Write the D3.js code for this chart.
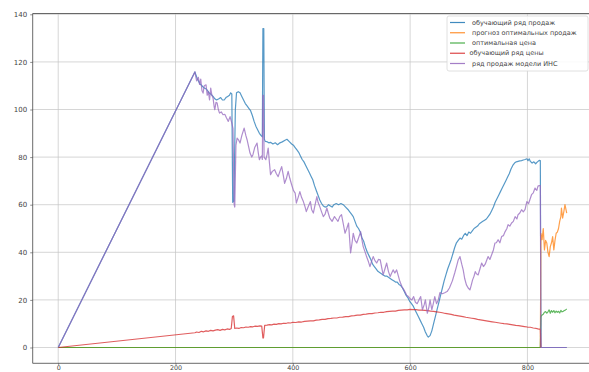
<!DOCTYPE html>
<html>
<head>
<meta charset="utf-8">
<script src="https://cdn.jsdelivr.net/npm/d3@7"></script>
<style>
  html, body { margin: 0; padding: 0; background: #fff; }
  svg { display: block; font-family: "DejaVu Sans", sans-serif; }
</style>
</head>
<body>
<svg id="chart" width="589" height="372"></svg>
<script>
// Training sales series [index, value]
const trainSales = [[0,0],[233,115.8],[237,113],[241,111],[245,110],[249,109],[253,108.5],[257,107],[260,106.5],[264,105.5],[267,104.5],[270,104],[274,104.5],[277,105],[280,104],[283,104],[286,105],[289,105.5],[292,106],[294,107],[296,106.5],[297.5,61],[299.5,61.5],[302,100],[304,107],[307,107.5],[310,107],[313,105.5],[316,104],[319,102.5],[322,101.5],[325,100.5],[328,99.5],[331,97.5],[334,95],[337,93],[340,91.5],[343,90],[346,89],[348,88.5],[349,134],[350.5,134],[351.5,87.5],[353,86.6],[356,86.5],[359,86],[362,86.2],[366,85.5],[370,86],[374,85.2],[378,86],[382,86.4],[386,87],[390,87.5],[394,86.5],[398,85.5],[401,85],[404,84],[407,83],[410,82],[413,80.5],[416,79],[419,78],[422,76.5],[425,75],[428,73.5],[431,72],[434,70.5],[437,68],[440,66],[443,64],[446,62],[449,60.5],[452,59.5],[455,59],[458,59.2],[461,60],[464,59.5],[467,59],[470,60],[474,60.5],[478,60],[482,60.5],[486,60],[490,59],[494,58],[497,57],[500,56],[503,55],[506,53],[509,51],[512,50],[515,48.5],[518,46],[521,44.5],[524,42],[527,40],[530,38.5],[533,37],[536,35],[539,34],[542,33],[545,32],[548,31.5],[551,31],[554,30.5],[557,30],[560,30],[563,29.5],[566,29],[569,28.5],[572,28],[575,27.5],[578,27.5],[581,26.5],[584,26],[587,25],[590,23.5],[593,22],[596,21],[599,19.5],[602,18.5],[605,17.5],[608,16],[611,14.5],[614,13],[617,11.5],[620,10],[623,8.5],[626,6.5],[629,5],[631,4.4],[634,5],[637,7],[640,10],[643,13],[646,16],[649,19],[652,22],[655,25],[658,28],[661,30.5],[664,33],[667,35],[670,37],[673,39.5],[676,42],[679,44],[682,45],[685,46],[688,45.5],[691,47],[694,48],[697,47],[700,48.5],[703,48],[706,49],[709,50],[712,50.5],[715,51],[718,52],[721,52.5],[724,53],[727,53.5],[730,54],[733,55],[736,56],[739,57.5],[742,59],[745,61],[748,62.5],[751,64],[754,65.5],[757,67],[760,68.5],[763,70],[766,71.5],[769,73],[772,75],[775,76.5],[778,77.5],[781,78],[784,78.2],[787,78.4],[790,78.5],[793,78.8],[796,79],[799,79.3],[801,78.5],[803,79.3],[805,78.2],[808,77.5],[811,78],[814,77.2],[817,78],[820,78.6],[822,78.5],[823,0],[867,0]];

// Forecast of optimal sales
const forecastSales = [[0,0],[822,0],[823,48],[825,45.3],[827,50],[829,41],[831,45],[833,43.9],[835,40],[837,38.2],[839,42.4],[841,44],[843,46.6],[845,41],[847,45],[849,48],[851,48.5],[853,50],[855,53],[857,55],[858,58.6],[860,54.4],[862,57],[864,60],[867,56.5]];

// Optimal price
const optimalPrice = [[0,0],[822,0],[823,13],[825,13.7],[827,14],[829,14.8],[831,15.1],[833,14.4],[835,15],[837,15.8],[839,14.4],[841,15.5],[843,14.8],[845,15.5],[847,14.6],[849,15.3],[851,14.8],[853,15.2],[855,14.5],[857,15.6],[859,15],[861,15.2],[863,15.5],[865,15.8],[867,16.2]];

// Training price series
const trainPrice = [[0,0],[233,6.2],[236,6.5],[240,6.3],[244,6.8],[248,6.6],[252,7],[256,6.8],[260,7.2],[264,7],[268,7.3],[272,7.5],[276,7.2],[280,7.6],[284,7.4],[288,7.8],[292,7.6],[295,8],[297,13],[299,13.3],[301,8],[304,8.2],[308,8],[312,8.4],[316,8.3],[320,8.6],[324,8.5],[328,8.8],[332,8.7],[336,9],[340,8.9],[344,9.1],[347,9],[349,4],[350,4],[352,9.3],[356,9.4],[360,9.6],[364,9.5],[368,9.8],[372,9.7],[376,10],[380,9.9],[384,10.2],[388,10.1],[392,10.4],[396,10.3],[400,10.6],[405,10.5],[410,10.8],[415,10.7],[420,11],[425,11.1],[430,11.2],[435,11.2],[440,11.5],[445,11.6],[450,11.8],[455,11.8],[460,12.1],[465,12.2],[470,12.4],[475,12.4],[480,12.7],[485,12.8],[490,13],[495,13],[500,13.3],[505,13.4],[510,13.6],[515,13.6],[520,13.9],[525,14],[530,14.2],[535,14.2],[540,14.5],[545,14.6],[550,14.8],[555,14.8],[560,15.1],[565,15.2],[570,15.3],[575,15.3],[580,15.6],[585,15.7],[590,15.8],[595,15.8],[600,16],[605,15.9],[610,15.9],[615,15.7],[620,15.7],[625,15.6],[630,15.5],[635,15.3],[640,15.2],[645,15],[650,14.8],[655,14.6],[660,14.3],[665,14.1],[670,13.9],[675,13.6],[680,13.4],[685,13.2],[690,13],[695,12.7],[700,12.5],[705,12.3],[710,12.1],[715,11.8],[720,11.6],[725,11.4],[730,11.2],[735,11],[740,10.8],[745,10.6],[750,10.4],[755,10.2],[760,10],[765,9.9],[770,9.7],[775,9.5],[780,9.3],[785,9.2],[790,9],[795,8.8],[800,8.6],[805,8.5],[810,8.2],[815,8],[818,7.8],[822,7.6],[823,0]];

// Sales series from the neural network model
const modelSales = [[0,0],[233,115.8],[236,112],[239,113.5],[241,110.5],[243,112.8],[245,108],[247,106.9],[249,110],[252,110.4],[254,106],[256,107.6],[258,104],[260,109],[262,106],[264,104.8],[266,101],[267,99.9],[269,103],[271,102.7],[273,100],[275,98.5],[278,99],[281,97.8],[284,98],[287,96.4],[290,95],[293,97],[296,94.3],[298,92],[300,60],[301,59],[303,85],[305,88],[308,87],[310,85.9],[313,89],[317,92.2],[320,89],[322,87.3],[325,84],[327,81.7],[330,80],[332,81],[335,84],[339,85.9],[341,82],[343,78.9],[345,80],[347,80.5],[348,79],[349,106],[350,106],[351,80],[354,78.9],[356,81],[358,83.8],[360,78],[362,72.6],[365,74],[369,74.7],[372,73],[375,71.8],[378,74],[381,76],[384,72],[386,69],[389,71],[392,74],[395,71],[398,68.4],[401,66],[404,64.9],[406,60.7],[409,63],[412,65.5],[415,63],[418,61.3],[421,59],[423,57.1],[426,59],[430,61.3],[432,58],[435,56.5],[438,60],[441,63.4],[443,61],[446,59.2],[449,57],[452,55],[455,56],[458,58.6],[461,56],[463,54.4],[467,53],[471,55],[474,54],[477,53],[480,55],[483,55.8],[486,52],[489,48],[492,50],[495,52.3],[497,45],[498.5,39.7],[501,44],[503,48],[506,45],[509,43.9],[512,46],[515.6,48.7],[518,45],[520,42.4],[523,40.3],[526,38],[529,36],[531.5,34],[534,36],[537,38.2],[540,36.5],[543,35.5],[546,37],[549,36.8],[552,33],[554,30.5],[557,33],[560,35.5],[563,32],[566,29.8],[568,31],[571,32.6],[574,31.3],[577,32.6],[580,30],[582.6,27.7],[586,25.6],[590,24],[594,22],[597,21.4],[600,20.5],[603,20],[606,21.4],[609,19],[612,18.4],[615,20],[618,21.4],[621,15.8],[624,18],[626,20],[629.3,14.4],[632,17],[634,20],[637,15.8],[640,19],[642,21.4],[645,18.4],[648,20],[650.8,23.1],[655,22.6],[659,23],[663,23.5],[667,25],[672,28],[676,31.3],[679,34],[682,36.8],[685,38.2],[688,35],[690.5,32.6],[693,29],[696,26.3],[699,25],[702,24.2],[704,26],[706.5,28.4],[709,30],[711,31.9],[713,31],[716,30.5],[719,33],[722,35.5],[725,34],[728,35],[731,37],[733,38.2],[736,37],[739,39],[742,41],[744.6,43.9],[747,44],[750,45.3],[753,44],[756,46.6],[759,47],[762,48.7],[765,50],[767,51.6],[770,51],[773,52.3],[776,53],[779,55],[782,54],[784,55.8],[787,56.5],[790,57.9],[793,57],[796,58],[799,61.3],[802,60.5],[804,62],[807,64.2],[810,65],[813,67],[816,66],[818,67.8],[820,68],[822,68],[823,0],[867,0]];

const xTicks = [0, 200, 400, 600, 800];
const yTicks = [0, 20, 40, 60, 80, 100, 120, 140];

const seriesNames = [
  "обучающий ряд продаж",
  "прогноз оптимальных продаж",
  "оптимальная цена",
  "обучающий ряд цены",
  "ряд продаж модели ИНС"
];
const seriesColors = ["#1f77b4", "#ff7f0e", "#2ca02c", "#d62728", "#9467bd"];
const seriesData = [trainSales, forecastSales, optimalPrice, trainPrice, modelSales];

const svg = d3.select("#chart");
const plot = { left: 32.7, right: 594, top: 13.5, bottom: 363.3 };

const x = d3.scaleLinear().domain([-43.5, 913.5]).range([plot.left, plot.right]);
const y = d3.scaleLinear().domain([-6.64, 140.34]).range([plot.bottom, plot.top]);

svg.append("defs").append("clipPath").attr("id", "plotClip")
  .append("rect")
  .attr("x", plot.left).attr("y", plot.top)
  .attr("width", plot.right - plot.left).attr("height", plot.bottom - plot.top);

// grid
const grid = svg.append("g").attr("stroke", "#c4c4c4").attr("stroke-width", 0.7);
grid.selectAll("line.gx").data(xTicks).join("line")
  .attr("x1", d => x(d)).attr("x2", d => x(d))
  .attr("y1", plot.top).attr("y2", plot.bottom);
grid.selectAll("line.gy").data(yTicks).join("line")
  .attr("x1", plot.left).attr("x2", plot.right)
  .attr("y1", d => y(d)).attr("y2", d => y(d));

// series lines
const line = d3.line().x(d => x(d[0])).y(d => y(d[1]));
const lines = svg.append("g").attr("clip-path", "url(#plotClip)");
seriesData.forEach((data, i) => {
  lines.append("path")
    .attr("d", line(data))
    .attr("fill", "none")
    .attr("stroke", seriesColors[i])
    .attr("stroke-width", 1.2)
    .attr("stroke-opacity", 0.75)
    .attr("stroke-linejoin", "round");
});

// axes
const xAxis = d3.axisBottom(x).tickValues(xTicks).tickSize(2).tickPadding(0.5).tickFormat(d3.format("d"));
const yAxis = d3.axisLeft(y).tickValues(yTicks).tickSize(2.5).tickPadding(3).tickFormat(d3.format("d"));

const gx = svg.append("g").attr("transform", `translate(0,${plot.bottom})`).call(xAxis);
const gy = svg.append("g").attr("transform", `translate(${plot.left},0)`).call(yAxis);
[gx, gy].forEach(g => {
  g.select(".domain").remove();
  g.selectAll(".tick line").attr("stroke", "#444").attr("stroke-width", 0.6);
  g.selectAll(".tick text").attr("fill", "#444").attr("font-size", 7)
    .attr("font-family", "DejaVu Sans, sans-serif");
});
gx.selectAll(".tick text").attr("font-size", 6.4);

// spines
const spines = svg.append("g").attr("stroke", "#444").attr("stroke-width", 0.8);
spines.append("line").attr("x1", plot.left).attr("x2", plot.left).attr("y1", plot.top).attr("y2", plot.bottom);
spines.append("line").attr("x1", plot.left).attr("x2", plot.right).attr("y1", plot.bottom).attr("y2", plot.bottom);
spines.append("line").attr("x1", plot.left).attr("x2", plot.right).attr("y1", plot.top).attr("y2", plot.top);

// legend
const legend = svg.append("g").attr("transform", "translate(447,16)");
legend.append("rect")
  .attr("x", 0).attr("y", 0).attr("width", 141).attr("height", 55)
  .attr("rx", 2).attr("fill", "#fff").attr("fill-opacity", 0.85)
  .attr("stroke", "#d8d8d8").attr("stroke-width", 0.8);
const items = legend.selectAll("g.item").data(seriesNames).join("g")
  .attr("transform", (d, i) => `translate(0,${6.5 + i * 10.25})`);
items.append("line")
  .attr("x1", 3).attr("x2", 18).attr("y1", 0).attr("y2", 0)
  .attr("stroke", (d, i) => seriesColors[i]).attr("stroke-width", 1.2)
  .attr("stroke-opacity", 0.85);
items.append("text")
  .attr("x", (d, i) => i === 3 ? 22.5 : 25).attr("y", 0)
  .attr("dominant-baseline", "central")
  .attr("font-size", 6.5).attr("fill", "#444")
  .text(d => d);
</script>
</body>
</html>
